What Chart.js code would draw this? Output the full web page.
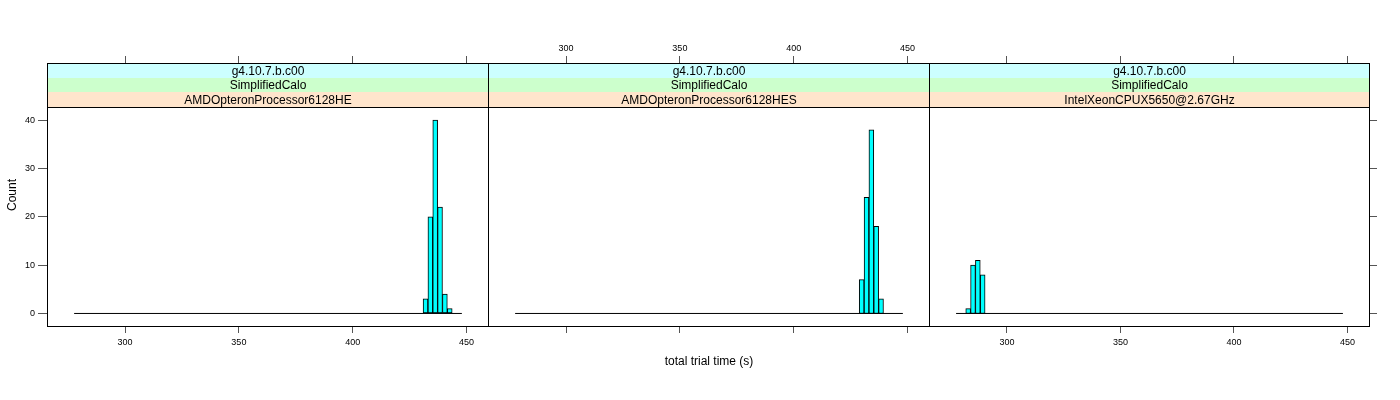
<!DOCTYPE html>
<html>
<head>
<meta charset="utf-8">
<script src="https://cdn.jsdelivr.net/npm/chart.js@4"></script>
<style>
  body { margin: 0; background: #fff; }
  #wrap { position: relative; width: 1400px; height: 400px; overflow: hidden; background: #fff; }
  canvas { position: absolute; top: 0; }
</style>
</head>
<body>
<div id="wrap">
  <canvas id="panel1" width="489" height="400" style="left:0px"></canvas>
  <canvas id="panel2" width="442" height="400" style="left:488px"></canvas>
  <canvas id="panel3" width="471" height="400" style="left:929px"></canvas>
</div>
<script>
const versions = ["g4.10.7.b.c00", "g4.10.7.b.c00", "g4.10.7.b.c00"];
const tests = ["SimplifiedCalo", "SimplifiedCalo", "SimplifiedCalo"];
const processors = ["AMDOpteronProcessor6128HE", "AMDOpteronProcessor6128HES", "IntelXeonCPUX5650@2.67GHz"];

// histogram breaks, shared by all panels
const breakStart = 277.6;
const binWidth = 2.13;
const binTotal = 80;

// index of the first non-empty bin in each panel, then the counts from there on
const firstBins = [72, 71, 2];
const panel1Counts = [3, 20, 40, 22, 4, 1];
const panel2Counts = [7, 24, 38, 18, 3];
const panel3Counts = [1, 10, 11, 8];

const xTicks = [300, 350, 400, 450];
const yTicks = [0, 10, 20, 30, 40];

const FONT = "'Liberation Sans', Arial, Helvetica, sans-serif";
const STRIP_H = 14.5;
const TOP_H = 63;
const BOTTOM_H = 73;
const CANVAS_H = 400;

// lattice style limits: range plus 7% each side
const breakEnd = breakStart + binTotal * binWidth;
const xPad = 0.07 * (breakEnd - breakStart);
const xMin = breakStart - xPad;
const xMax = breakEnd + xPad;

const maxCount = Math.max(...panel1Counts, ...panel2Counts, ...panel3Counts);
const yLo = -0.07 * maxCount;
const yHi = maxCount * 1.07;
// the strips sit inside the chart area, so stretch the y range over them
const areaH = CANVAS_H - TOP_H - BOTTOM_H;
const yTop = yLo + (yHi - yLo) * areaH / (areaH - 3 * STRIP_H);

const stripPlugin = {
  id: "strips",
  afterDraw(chart, args, opts) {
    const ctx = chart.ctx;
    const area = chart.chartArea;
    const idx = opts.panel;
    const rows = [versions[idx], tests[idx], processors[idx]];
    const fills = ["#ccffff", "#ccffcc", "#ffe5cc"];
    ctx.save();
    ctx.lineWidth = 1;
    ctx.strokeStyle = "#000";
    for (let r = 0; r < rows.length; r++) {
      const y0 = Math.round(area.top + r * STRIP_H);
      const y1 = Math.round(area.top + (r + 1) * STRIP_H);
      ctx.fillStyle = fills[r];
      ctx.fillRect(area.left, y0, area.right - area.left, y1 - y0);
      ctx.beginPath();
      ctx.moveTo(area.left, y1 + 0.5);
      ctx.lineTo(area.right, y1 + 0.5);
      ctx.stroke();
      ctx.fillStyle = "#000";
      ctx.font = "12px " + FONT;
      ctx.textAlign = "center";
      ctx.textBaseline = "middle";
      ctx.fillText(rows[r], (area.left + area.right) / 2, (y0 + y1) / 2 + 1);
    }
    ctx.strokeRect(Math.round(area.left) + 0.5, Math.round(area.top) + 0.5,
      Math.round(area.right - area.left) - 1, Math.round(area.bottom - area.top) - 1);
    ctx.restore();
  }
};

function tickSetter(values) {
  return function (scale) {
    scale.ticks = values.map(v => ({ value: v }));
  };
}

function makePanel(canvasId, idx, counts, cfg) {
  const bars = counts.map((c, i) => ({
    x: breakStart + (firstBins[idx] + i + 0.5) * binWidth,
    y: c
  }));
  const zeroLine = [{ x: breakStart, y: 0 }, { x: breakEnd, y: 0 }];
  const tickFont = { family: FONT, size: 9 };

  const scales = {
    x: {
      type: "linear", position: "bottom", min: xMin, max: xMax, offset: false,
      afterBuildTicks: tickSetter(xTicks),
      afterFit: s => { s.height = BOTTOM_H; },
      grid: { drawOnChartArea: false, offset: false, tickLength: 6, color: "#555" },
      border: { display: false },
      ticks: { display: cfg.bottomLabels, font: tickFont, color: "#000", padding: 4, maxRotation: 0, autoSkip: false },
      title: {
        display: !!cfg.xTitle, text: cfg.xTitle || "", color: "#000",
        font: { family: FONT, size: 12 }, padding: { top: 0, bottom: 31 }
      }
    },
    xt: {
      type: "linear", position: "top", min: xMin, max: xMax, offset: false,
      afterBuildTicks: tickSetter(xTicks),
      afterFit: s => { s.height = TOP_H; },
      grid: { drawOnChartArea: false, offset: false, tickLength: 7, color: "#555" },
      border: { display: false },
      ticks: { display: cfg.topLabels, font: tickFont, color: "#000", padding: 2, maxRotation: 0, autoSkip: false }
    },
    y: {
      type: "linear", position: "left", min: yLo, max: yTop, display: cfg.leftAxis,
      afterBuildTicks: tickSetter(yTicks),
      afterFit: s => { s.width = cfg.leftAxis ? 47 : 0; },
      grid: { drawOnChartArea: false, tickLength: 9, color: "#555" },
      border: { display: false },
      ticks: { font: tickFont, color: "#000", padding: 3 },
      title: {
        display: true, text: "Count", color: "#000",
        font: { family: FONT, size: 12 }, padding: { top: 5, bottom: 0 }
      }
    }
  };
  if (cfg.rightAxis) {
    scales.yr = {
      type: "linear", position: "right", min: yLo, max: yTop,
      afterBuildTicks: tickSetter(yTicks),
      afterFit: s => { s.width = 30; },
      grid: { drawOnChartArea: false, tickLength: 7, color: "#555" },
      border: { display: false },
      ticks: { display: false }
    };
  }

  new Chart(document.getElementById(canvasId), {
    type: "bar",
    data: {
      datasets: [
        {
          type: "bar", data: bars, backgroundColor: "#00ffff", borderColor: "#000",
          borderWidth: 1, borderSkipped: false, barPercentage: 1, categoryPercentage: 1,
          grouped: false, order: 1
        },
        {
          type: "line", data: zeroLine, borderColor: "#000", borderWidth: 1,
          pointRadius: 0, order: 2
        }
      ]
    },
    options: {
      responsive: false,
      animation: false,
      layout: { padding: 0 },
      plugins: { legend: { display: false }, tooltip: { enabled: false }, strips: { panel: idx } },
      scales: scales
    },
    plugins: [stripPlugin]
  });
}

makePanel("panel1", 0, panel1Counts, { leftAxis: true, rightAxis: false, bottomLabels: true, topLabels: false });
makePanel("panel2", 1, panel2Counts, { leftAxis: false, rightAxis: false, bottomLabels: false, topLabels: true, xTitle: "total trial time (s)" });
makePanel("panel3", 2, panel3Counts, { leftAxis: false, rightAxis: true, bottomLabels: true, topLabels: false });
</script>
</body>
</html>
